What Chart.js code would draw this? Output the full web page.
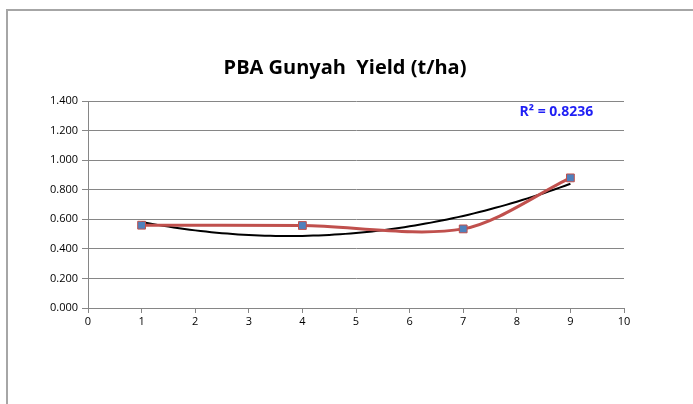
<!DOCTYPE html>
<html>
<head>
<meta charset="utf-8">
<script src="https://cdn.jsdelivr.net/npm/chart.js@4/dist/chart.umd.min.js"></script>
<style>
  html, body { margin: 0; padding: 0; background: #fff; }
  #wrap { position: relative; width: 693px; height: 404px; overflow: hidden; }
  #frame { position: absolute; left: 6px; top: 9px; width: 800px; height: 500px;
           border-top: 2px solid #a6a6a6; border-left: 2px solid #a6a6a6; }
  canvas { position: absolute; left: 0; top: 0; }
</style>
</head>
<body>
<div id="wrap">
  <div id="frame"></div>
  <canvas id="yieldChart" width="693" height="404"></canvas>
</div>
<script>
const titleText = "PBA Gunyah  Yield (t/ha)";
const sowingX = [1, 4, 7, 9];
const yieldY = [0.560, 0.558, 0.535, 0.880];
const r2Label = "R² = 0.8236";

// order 2 polynomial trendline, least squares like Excel
function quadFit(xs, ys) {
  let s = [0, 0, 0, 0, 0], t = [0, 0, 0];
  xs.forEach((x, i) => {
    for (let k = 0; k < 5; k++) s[k] += Math.pow(x, k);
    for (let k = 0; k < 3; k++) t[k] += Math.pow(x, k) * ys[i];
  });
  const m = [[s[0], s[1], s[2], t[0]], [s[1], s[2], s[3], t[1]], [s[2], s[3], s[4], t[2]]];
  for (let i = 0; i < 3; i++) {
    for (let j = i + 1; j < 3; j++) {
      const f = m[j][i] / m[i][i];
      for (let k = i; k < 4; k++) m[j][k] -= f * m[i][k];
    }
  }
  const c = [0, 0, 0];
  for (let i = 2; i >= 0; i--) {
    let v = m[i][3];
    for (let k = i + 1; k < 3; k++) v -= m[i][k] * c[k];
    c[i] = v / m[i][i];
  }
  return c;
}

const coef = quadFit(sowingX, yieldY);
const trend = [];
for (let x = sowingX[0]; x <= sowingX[sowingX.length - 1] + 1e-9; x += 0.1) {
  trend.push({ x: x, y: coef[0] + coef[1] * x + coef[2] * x * x });
}

const extras = {
  id: 'extras',
  afterDraw(chart) {
    const ctx = chart.ctx;
    const xs = chart.scales.x, ys = chart.scales.y;
    ctx.save();
    ctx.fillStyle = '#000';
    ctx.font = 'bold 20px "Open Sans", sans-serif';
    ctx.textAlign = 'center';
    ctx.textBaseline = 'middle';
    ctx.fillText(titleText, 345, 68);
    ctx.fillStyle = '#1f1ff5';
    ctx.font = 'bold 14px "Open Sans", sans-serif';
    ctx.textAlign = 'left';
    ctx.fillText(r2Label, xs.getPixelForValue(8.05), ys.getPixelForValue(1.325));
    ctx.restore();
  }
};

new Chart(document.getElementById('yieldChart'), {
  type: 'scatter',
  data: {
    datasets: [
      {
        label: 'Trend',
        data: trend,
        showLine: true,
        borderColor: '#000',
        borderWidth: 2,
        pointRadius: 0,
        order: 2
      },
      {
        label: 'Yield',
        data: sowingX.map((x, i) => ({ x: x, y: yieldY[i] })),
        showLine: true,
        tension: 0.3,
        borderColor: '#c0504d',
        borderWidth: 3,
        pointStyle: 'rect',
        pointRadius: 5.5,
        pointBackgroundColor: '#4f81bd',
        pointBorderColor: '#c0504d',
        pointBorderWidth: 1,
        order: 1
      }
    ]
  },
  options: {
    responsive: false,
    animation: false,
    layout: { padding: { top: 101, right: 69, bottom: 76, left: 0 } },
    plugins: { legend: { display: false }, title: { display: false }, tooltip: { enabled: false } },
    scales: {
      x: {
        type: 'linear', min: 0, max: 10,
        afterFit: s => { s.height = 20; },
        ticks: { stepSize: 1, color: '#000', padding: 2, font: { family: '"Open Sans", sans-serif', size: 11 } },
        grid: { display: true, drawOnChartArea: false, tickLength: 5, color: '#868686' },
        border: { color: '#868686', width: 1 }
      },
      y: {
        min: 0, max: 1.4,
        afterFit: s => { s.width = 88; },
        ticks: { stepSize: 0.2, color: '#000', padding: 4,
                 callback: v => v.toFixed(3),
                 font: { family: '"Open Sans", sans-serif', size: 11 } },
        grid: { color: '#868686', lineWidth: 1, tickLength: 6 },
        border: { color: '#868686', width: 1 }
      }
    }
  },
  plugins: [extras]
});
</script>
</body>
</html>
